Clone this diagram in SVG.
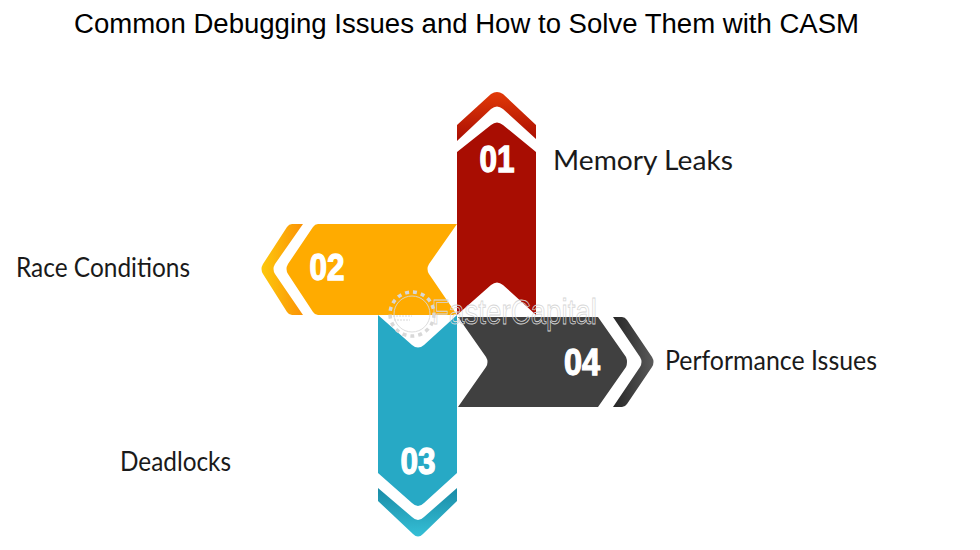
<svg xmlns="http://www.w3.org/2000/svg" width="980" height="550" viewBox="0 0 980 550">
  <style>
    .title { font: 27px "Liberation Sans", Arial, sans-serif; fill: #000; }
    .label { font: 26px Lato, "Open Sans", sans-serif; fill: #1a1a1a; }
    .num { font: bold 36px "Liberation Sans", sans-serif; fill: #fff; stroke: #fff; stroke-width: 1.3px; text-anchor: middle; }
    .mark { font: 35px "Liberation Sans", sans-serif; fill: none; stroke: #d6d6d6; stroke-width: 0.8px; }
  </style>
  <defs>
    <linearGradient id="redTip" x1="0" y1="0" x2="0" y2="1">
      <stop offset="0" stop-color="#e23a08"/><stop offset="1" stop-color="#a80d02"/>
    </linearGradient>
    <linearGradient id="amberTip" x1="0" y1="0.5" x2="1" y2="0.5">
      <stop offset="0" stop-color="#fdc80c"/><stop offset="1" stop-color="#fb9206"/>
    </linearGradient>
    <linearGradient id="tealTip" x1="0" y1="0" x2="0" y2="1">
      <stop offset="0" stop-color="#1a8ba6"/><stop offset="1" stop-color="#35bfd6"/>
    </linearGradient>
    <linearGradient id="darkTip" x1="0" y1="0.5" x2="1" y2="0.5">
      <stop offset="0" stop-color="#262626"/><stop offset="1" stop-color="#5a5a5a"/>
    </linearGradient>
  </defs>

  <text class="title" x="74" y="33" textLength="785" lengthAdjust="spacingAndGlyphs">Common Debugging Issues and How to Solve Them with CASM</text>

  <g id="node-03">
    <path fill="#27a9c5" d="M378 315 L412 345 Q418 350 424 345 L457 315 L457 473 L424 503 Q418 509 412 503 L378 473 Z"/>
    <path fill="url(#tealTip)" d="M378 488 L412 517 Q418 523 424 517 L457 488 L457 501 L423 534 Q418 539 413 534 L378 501 Z"/>
    <text class="num" x="418" y="474" textLength="35" lengthAdjust="spacingAndGlyphs">03</text>
    <text class="label" x="120" y="471" textLength="111" lengthAdjust="spacingAndGlyphs">Deadlocks</text>
  </g>

  <g id="node-02">
    <path fill="#ffab00" d="M318 224 L457 224 L429 264 Q426 269 429 274 L457 315 L318 315 Q315 315 313 312 L288 274 Q285 269 288 264 L313 227 Q315 224 318 224 Z"/>
    <path fill="url(#amberTip)" d="M292 224 L303 224 L275 264 Q272 269 275 274 L303 315 L292 315 Q289 315 287 312 L263 274 Q260 269 263 264 L287 227 Q289 224 292 224 Z"/>
    <text class="num" x="327" y="280" textLength="35" lengthAdjust="spacingAndGlyphs">02</text>
    <text class="label" x="16" y="277" textLength="174" lengthAdjust="spacingAndGlyphs">Race Conditions</text>
  </g>

  <g id="node-01">
    <path fill="#a80d02" d="M457 152 L491 125 Q497 120 503 125 L536 152 L536 315 L503 285 Q497 280 491 285 L457 315 Z"/>
    <path fill="url(#redTip)" d="M457 125 L491 94 Q497 90 503 94 L536 125 L536 139 L503 109 Q497 104 491 109 L457 141 Z"/>
    <text class="num" x="497" y="172" textLength="35" lengthAdjust="spacingAndGlyphs">01</text>
    <text class="label" x="553" y="170" textLength="180" lengthAdjust="spacingAndGlyphs">Memory Leaks</text>
  </g>

  <g id="node-04">
    <path fill="#404040" d="M458 317 L598 317 L626 357 Q628 362 626 367 L598 407 L458 407 L486 367 Q489 362 486 357 Z"/>
    <path fill="url(#darkTip)" d="M613 317 L622 317 Q625 317 627 320 L652 357 Q655 362 652 367 L627 404 Q625 407 622 407 L613 407 L640 367 Q643 362 640 357 Z"/>
    <text class="num" x="582" y="375" textLength="36" lengthAdjust="spacingAndGlyphs">04</text>
    <text class="label" x="665" y="370" textLength="212" lengthAdjust="spacingAndGlyphs">Performance Issues</text>
  </g>

  <!-- Faint company mark across the centre of the cross -->
  <g id="watermark">
    <circle cx="412" cy="314" r="18" fill="none" stroke="#d8d8d8" stroke-width="0.9"/>
    <circle cx="412" cy="314" r="22" fill="none" stroke="#d8d8d8" stroke-width="3.5" stroke-dasharray="4 4"/>
    <path d="M390 316 H412 M394 320 H410" fill="none" stroke="#d8d8d8" stroke-width="1" stroke-dasharray="2 1"/>
    <text class="mark" x="432" y="324" textLength="165" lengthAdjust="spacingAndGlyphs">FasterCapital</text>
  </g>

  <g id="connectors"></g>
</svg>
